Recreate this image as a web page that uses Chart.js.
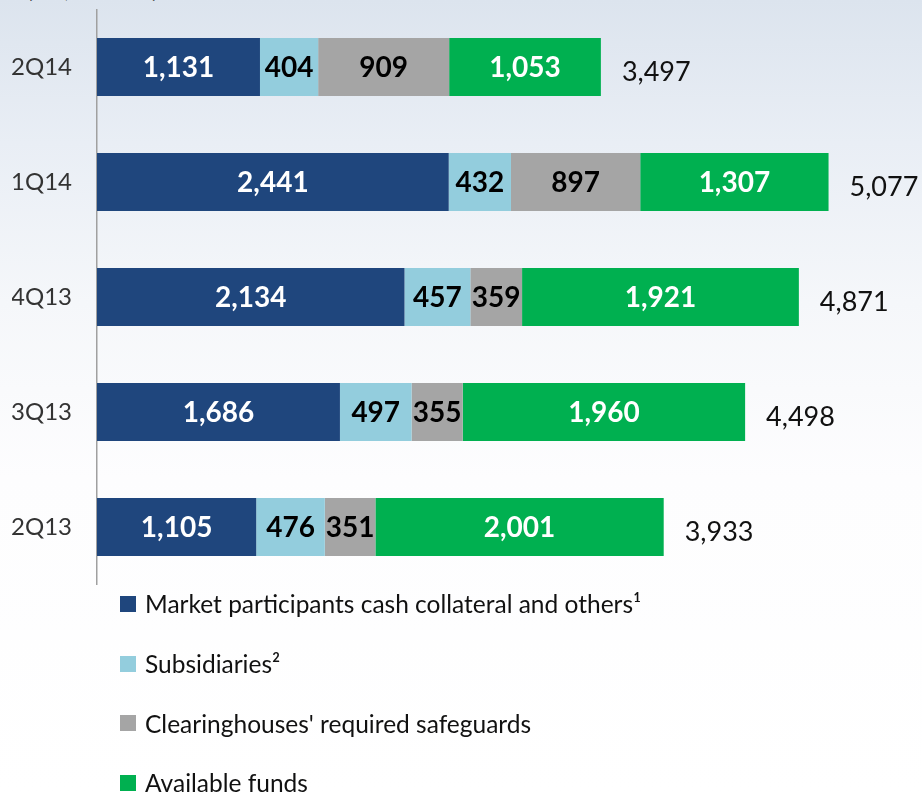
<!DOCTYPE html>
<html>
<head>
<meta charset="utf-8">
<script src="https://cdn.jsdelivr.net/npm/chart.js@4/dist/chart.umd.min.js"></script>
<style>
  html, body { margin: 0; padding: 0; }
  body {
    width: 922px; height: 795px; overflow: hidden; position: relative;
    background: linear-gradient(180deg, #dce4ee 0%, #e9eef5 18%, #f5f7fa 38%, #fdfdfe 60%, #ffffff 100%);
    font-family: Lato, "Open Sans", sans-serif;
  }
  #unit { position: absolute; left: 26px; top: -29px; font-size: 26px; color: #111; }
  #wrap { position: absolute; left: 0; top: 0; width: 922px; height: 590px; }
  #legend { position: absolute; left: 120px; top: 574px; }
  .item { height: 59.7px; display: flex; align-items: center; font-size: 24.5px; color: #111; }
  .box { width: 16px; height: 16px; margin-right: 9px; }
</style>
</head>
<body>
<div id="unit">(R$, million)</div>
<div id="wrap"><canvas id="chart"></canvas></div>
<div id="legend"></div>
<script>
document.addEventListener('DOMContentLoaded', function() {
  // quarters, top to bottom as shown
  const quarters = ['2Q14', '1Q14', '4Q13', '3Q13', '2Q13'];
  const marketParticipants = [1131, 2441, 2134, 1686, 1105];
  const subsidiaries = [404, 432, 457, 497, 476];
  const clearinghouses = [909, 897, 359, 355, 351];
  const availableFunds = [1053, 1307, 1921, 1960, 2001];
  const totals = [3497, 5077, 4871, 4498, 3933];

  const seriesNames = [
    'Market participants cash collateral and others\u00b9',
    'Subsidiaries\u00b2',
    "Clearinghouses' required safeguards",
    'Available funds'
  ];
  const seriesValues = [marketParticipants, subsidiaries, clearinghouses, availableFunds];
  const colors = ['#1f467d', '#93cddd', '#a5a5a5', '#00b050'];
  const labelColors = ['#ffffff', '#000000', '#000000', '#ffffff'];

  const fmt = v => v.toLocaleString('en-US');

  // value labels inside the bars and totals at the end
  const barLabels = {
    id: 'barLabels',
    afterDatasetsDraw(chart) {
      const ctx = chart.ctx;
      ctx.save();
      ctx.textBaseline = 'middle';
      chart.data.datasets.forEach((ds, i) => {
        const meta = chart.getDatasetMeta(i);
        ctx.font = 'bold 28px Lato';
        ctx.fillStyle = labelColors[i];
        ctx.textAlign = 'center';
        meta.data.forEach((bar, j) => {
          const cx = (bar.x + bar.base) / 2;
          ctx.fillText(fmt(ds.data[j]), cx, bar.y + 1);
        });
      });
      const last = chart.getDatasetMeta(chart.data.datasets.length - 1);
      ctx.font = '27px Lato';
      ctx.fillStyle = '#111';
      ctx.textAlign = 'left';
      last.data.forEach((bar, j) => {
        ctx.fillText(fmt(totals[j]), bar.x + 21, bar.y + 5);
      });
      ctx.restore();
    }
  };

  const ctx = document.getElementById('chart').getContext('2d');
  new Chart(ctx, {
    type: 'bar',
    data: {
      labels: quarters,
      datasets: seriesValues.map((vals, i) => ({
        label: seriesNames[i],
        data: vals,
        backgroundColor: colors[i],
        borderWidth: 0,
        categoryPercentage: 1,
        barPercentage: 0.505
      }))
    },
    options: {
      indexAxis: 'y',
      responsive: true,
      maintainAspectRatio: false,
      animation: false,
      layout: { padding: { left: 12, right: 32.5, top: 9.5, bottom: 5.5 } },
      plugins: { legend: { display: false }, tooltip: { enabled: false } },
      scales: {
        x: { stacked: true, display: false, min: 0, max: 5500 },
        y: {
          stacked: true,
          grid: { display: false, drawTicks: false },
          border: { display: true, color: '#a0a0a0', width: 1.5 },
          ticks: { color: '#333', font: { family: 'Lato', size: 24 }, padding: 25 },
          afterFit(scale) {
            scale.width = 85;
            scale.paddingTop = 0;
            scale.paddingBottom = 0;
          }
        }
      }
    },
    plugins: [barLabels]
  });

  // legend, one entry per line
  const legend = document.getElementById('legend');
  seriesNames.forEach((name, i) => {
    const item = document.createElement('div');
    item.className = 'item';
    item.innerHTML = '<span class="box" style="background:' + colors[i] + '"></span>' + name;
    legend.appendChild(item);
  });
});
</script>
</body>
</html>
